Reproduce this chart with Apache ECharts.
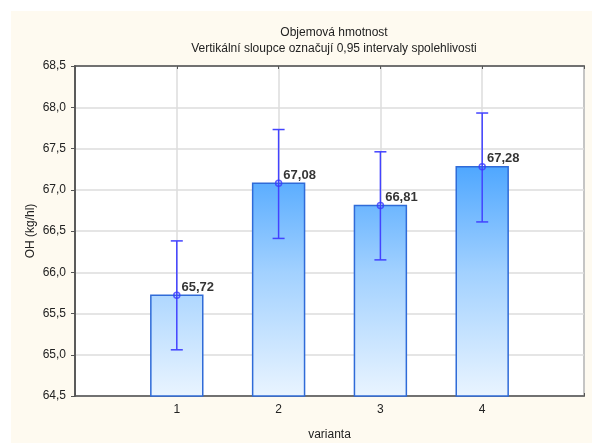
<!DOCTYPE html>
<html>
<head>
<meta charset="utf-8">
<script src="https://cdn.jsdelivr.net/npm/echarts@6/dist/echarts.min.js"></script>
<style>
  html, body { margin: 0; padding: 0; background: #ffffff; }
  #bg { position: absolute; left: 11px; top: 11px; width: 581px; height: 432px; background: #fefaf0; }
  #chart { position: absolute; left: 0; top: 0; width: 592px; height: 443px; }
</style>
</head>
<body>
<div id="bg"></div>
<div id="chart"></div>
<script>
const categories = ['1', '2', '3', '4'];
const means = [65.72, 67.08, 66.81, 67.28];
const ciLow = [65.06, 66.41, 66.15, 66.61];
const ciHigh = [66.38, 67.73, 67.46, 67.93];
const yTicksMin = 64.5;
const yTicksMax = 68.5;
const yStep = 0.5;

const FONT = 'Liberation Sans, Arial, sans-serif';
const fmtComma = (v, d) => v.toFixed(d).replace('.', ',');

const chart = echarts.init(document.getElementById('chart'), null, { renderer: 'canvas' });

const barData = means.map((m, i) => [i + 1, m]);
const errData = means.map((m, i) => [i + 1, ciLow[i], ciHigh[i]]);

function renderBar(params, api) {
  const x = api.value(0);
  const v = api.value(1);
  const top = api.coord([x, v]);
  const base = api.coord([x, yTicksMin]);
  const plotTop = api.coord([x, yTicksMax])[1];
  const w = api.size([1, 0])[0] * 0.51;
  const grad = new echarts.graphic.LinearGradient(0, plotTop, 0, base[1], [
    { offset: 0, color: '#1f8dff' },
    { offset: 0.305, color: '#4fa7ff' },
    { offset: 0.625, color: '#a2d1ff' },
    { offset: 1, color: '#e9f4ff' }
  ], true);
  return {
    type: 'rect',
    shape: { x: top[0] - w / 2, y: top[1], width: w, height: base[1] - top[1] },
    style: { fill: grad, stroke: '#2f6bd8', lineWidth: 1.5 }
  };
}

function renderErr(params, api) {
  const x = api.value(0);
  const lo = api.coord([x, api.value(1)]);
  const hi = api.coord([x, api.value(2)]);
  const cap = 6;
  const st = { stroke: '#4343ff', lineWidth: 1.5 };
  return {
    type: 'group',
    children: [
      { type: 'line', shape: { x1: lo[0], y1: lo[1], x2: hi[0], y2: hi[1] }, style: st },
      { type: 'line', shape: { x1: lo[0] - cap, y1: lo[1], x2: lo[0] + cap, y2: lo[1] }, style: st },
      { type: 'line', shape: { x1: hi[0] - cap, y1: hi[1], x2: hi[0] + cap, y2: hi[1] }, style: st }
    ]
  };
}

const axisLineStyle = { color: '#555555', width: 1.5 };
const textCol = '#222222';

chart.setOption({
  animation: false,
  backgroundColor: 'transparent',
  title: {
    text: 'Objemová hmotnost\nVertikální sloupce označují 0,95 intervaly spolehlivosti',
    left: 329,
    top: 20,
    textAlign: 'center',
    textStyle: { fontFamily: FONT, fontSize: 12, fontWeight: 'normal', color: textCol, lineHeight: 16 }
  },
  grid: {
    left: 75, right: 8, top: 66, bottom: 47,
    outerBoundsMode: 'none', containLabel: false,
    show: true, backgroundColor: '#ffffff', borderColor: '#555555', borderWidth: 1.5
  },
  xAxis: [{
    type: 'value', min: 0, max: categories.length + 1, interval: 1, position: 'bottom',
    name: 'varianta', nameLocation: 'middle', nameGap: 33, nameMoveOverlap: false,
    nameTextStyle: { fontFamily: FONT, fontSize: 12, color: textCol },
    axisLine: { show: true, lineStyle: axisLineStyle },
    axisTick: { show: true, inside: true, length: 3, lineStyle: { color: '#555' } },
    axisLabel: {
      margin: 8, fontFamily: FONT, fontSize: 12, color: textCol,
      formatter: v => (v >= 1 && v <= categories.length) ? categories[v - 1] : ''
    },
    splitLine: { show: true, lineStyle: { color: '#dcdcdc', width: 1.5 } }
  }, {
    type: 'value', min: 0, max: categories.length + 1, interval: 1, position: 'top',
    axisLine: { show: true, lineStyle: axisLineStyle },
    axisTick: { show: true, inside: true, length: 3, lineStyle: { color: '#555' } },
    axisLabel: { show: false },
    splitLine: { show: false }
  }],
  yAxis: [{
    type: 'value', min: yTicksMin, max: yTicksMax, interval: yStep, position: 'left',
    name: 'OH (kg/hl)', nameLocation: 'middle', nameGap: 38, nameMoveOverlap: false,
    nameTextStyle: { fontFamily: FONT, fontSize: 12, color: textCol },
    axisLine: { show: true, lineStyle: axisLineStyle },
    axisTick: { show: true, inside: false, length: 4, lineStyle: { color: '#555' } },
    axisLabel: { margin: 9, fontFamily: FONT, fontSize: 12, color: textCol, formatter: v => fmtComma(v, 1) },
    splitLine: { show: true, lineStyle: { color: '#dcdcdc', width: 1.5 } }
  }, {
    type: 'value', min: yTicksMin, max: yTicksMax, interval: yStep, position: 'right',
    axisLine: { show: true, lineStyle: axisLineStyle },
    axisTick: { show: true, inside: true, length: 3, lineStyle: { color: '#555' } },
    axisLabel: { show: false },
    splitLine: { show: false }
  }],
  series: [{
    type: 'custom', xAxisIndex: 0, yAxisIndex: 0,
    renderItem: renderBar, data: barData, z: 2
  }, {
    type: 'custom', xAxisIndex: 0, yAxisIndex: 0,
    renderItem: renderErr, data: errData, z: 3
  }, {
    type: 'scatter', xAxisIndex: 0, yAxisIndex: 0, z: 4,
    data: barData,
    symbol: 'circle', symbolSize: 6,
    itemStyle: { color: 'rgba(0,0,0,0)', borderColor: '#3a3aff', borderWidth: 1.5 },
    label: {
      show: true, position: 'right', distance: 0, offset: [1, -8],
      fontFamily: FONT, fontSize: 13, fontWeight: 'bold', color: '#000000',
      formatter: p => fmtComma(p.value[1], 2)
    }
  }]
});
</script>
</body>
</html>
